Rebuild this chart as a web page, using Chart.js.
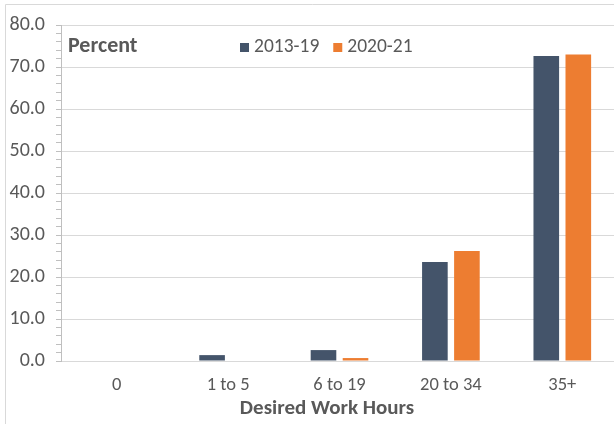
<!DOCTYPE html>
<html>
<head>
<meta charset="utf-8">
<script src="https://cdn.jsdelivr.net/npm/chart.js@4/dist/chart.umd.min.js"></script>
<style>
  html, body { margin: 0; padding: 0; background: #ffffff; overflow: hidden; }
  #wrap { position: absolute; left: 0; top: 0; width: 620px; height: 424px; }
</style>
</head>
<body>
<div id="wrap"><canvas id="c" width="620" height="424"></canvas></div>
<script>
const categories = ["0", "1 to 5", "6 to 19", "20 to 34", "35+"];
const series2013_19 = [0.0, 1.4, 2.6, 23.6, 72.6];
const series2020_21 = [0.0, 0.0, 0.7, 26.2, 73.0];
const seriesNames = ["2013-19", "2020-21"];
const yTicks = [0, 10, 20, 30, 40, 50, 60, 70, 80];
const yLabel = "Percent";
const xTitle = "Desired Work Hours";

const FONT = "Carlito, 'Open Sans', Lato, sans-serif";
const TXT = "#595959";
const colors = ["#44546A", "#ED7D31"];

const overlay = {
  id: "overlay",
  beforeDraw(chart) {
    const ctx = chart.ctx;
    ctx.save();
    ctx.strokeStyle = "#d9d9d9";
    ctx.lineWidth = 1;
    ctx.beginPath();
    ctx.moveTo(5.5, 424);
    ctx.lineTo(5.5, 4.5);
    ctx.lineTo(620, 4.5);
    ctx.stroke();
    ctx.restore();
  },
  afterDraw(chart) {
    const ctx = chart.ctx;
    ctx.save();
    ctx.fillStyle = TXT;
    ctx.textBaseline = "middle";
    ctx.font = "bold 22px " + FONT;
    ctx.fillText(yLabel, 68, 46);
    ctx.font = "19.5px " + FONT;
    let x = 240;
    chart.data.datasets.forEach((ds) => {
      ctx.fillStyle = ds.backgroundColor;
      ctx.fillRect(x, 43, 9, 9);
      ctx.fillStyle = TXT;
      ctx.fillText(ds.label, x + 14, 47);
      x += 14 + ctx.measureText(ds.label).width + 14;
    });
    ctx.font = "bold 21px " + FONT;
    ctx.textAlign = "center";
    ctx.fillText(xTitle, 327, 409);
    ctx.restore();
  }
};

new Chart(document.getElementById("c"), {
  type: "bar",
  data: {
    labels: categories,
    datasets: [
      { label: seriesNames[0], data: series2013_19, backgroundColor: colors[0] },
      { label: seriesNames[1], data: series2020_21, backgroundColor: colors[1] }
    ]
  },
  options: {
    responsive: false,
    animation: false,
    devicePixelRatio: 1,
    categoryPercentage: 0.575,
    barPercentage: 0.8,
    layout: { padding: { left: 0, right: 2, top: 25, bottom: 0 } },
    plugins: { legend: { display: false }, tooltip: { enabled: false } },
    scales: {
      x: {
        grid: { display: false },
        border: { color: "#d9d9d9", width: 1 },
        ticks: { color: TXT, font: { family: FONT, size: 18.5 }, padding: 5.5, maxRotation: 0 },
        title: { display: false },
        afterFit(s) { s.height = 63; }
      },
      y: {
        min: 0, max: 80,
        border: { color: "#bfbfbf", width: 1 },
        grid: {
          color: (c) => (c.tick && c.tick.value % 10 === 0 && c.tick.value !== 0) ? "#d9d9d9" : "rgba(0,0,0,0)",
          tickColor: "#bfbfbf",
          tickLength: 5,
          drawTicks: true
        },
        ticks: {
          stepSize: 2,
          autoSkip: false,
          color: TXT,
          font: { family: FONT, size: 20 },
          padding: 11,
          callback: (v) => yTicks.includes(v) ? v.toFixed(1) : ""
        },
        afterFit(s) { s.width = 61; }
      }
    }
  },
  plugins: [overlay]
});
</script>
</body>
</html>
